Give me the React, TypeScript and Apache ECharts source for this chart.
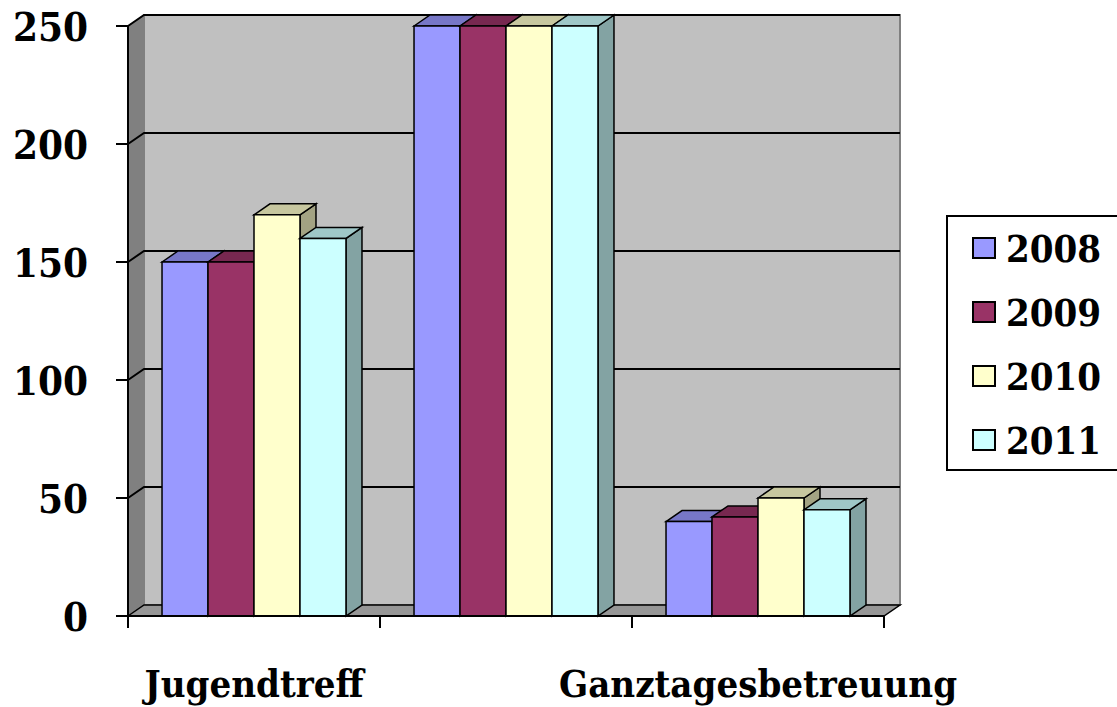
import React, { useEffect, useRef } from "react";
import * as echarts from "echarts";

const categories = ["Jugendtreff", "", "Ganztagesbetreuung"];
const years = ["2008", "2009", "2010", "2011"];
const values2008 = [150, 250, 40];
const values2009 = [150, 250, 42];
const values2010 = [170, 250, 50];
const values2011 = [160, 250, 45];
const yTicks = [0, 50, 100, 150, 200, 250];
const colors = ["#9999FF", "#993366", "#FFFFCC", "#CCFFFF"];

const seriesValues = [values2008, values2009, values2010, values2011];

const DX = 16;
const DY = -11;
const GAP = 0.27;
const FONT = "'DejaVu Serif Condensed', 'DejaVu Serif', serif";

function shade(hex: string, f: number): string {
  const n = parseInt(hex.slice(1), 16);
  const r = Math.round(((n >> 16) & 255) * f);
  const g = Math.round(((n >> 8) & 255) * f);
  const b = Math.round((n & 255) * f);
  return "rgb(" + r + "," + g + "," + b + ")";
}

export default function App() {
  const ref = useRef<HTMLDivElement>(null);
  useEffect(() => {
    if (!ref.current) return;
    const chart = echarts.init(ref.current, null, { renderer: "svg" });

    const wallSeries: any = {
      type: "custom",
      name: "wall",
      silent: true,
      z: 1,
      data: [[0, 0]],
      encode: { x: 0, y: 1 },
      renderItem: (params: any, api: any) => {
        const cs = params.coordSys;
        const x = cs.x, y = cs.y, w = cs.width, h = cs.height;
        const children: any[] = [
          {
            type: "polygon",
            shape: { points: [[x, y], [x + DX, y + DY], [x + DX, y + h + DY], [x, y + h]] },
            style: { fill: "#808080", stroke: "#606060", lineWidth: 1 },
          },
          {
            type: "rect",
            shape: { x: x + DX, y: y + DY, width: w, height: h },
            style: { fill: "#C0C0C0", stroke: "#808080", lineWidth: 2 },
          },
          {
            type: "polygon",
            shape: { points: [[x, y + h], [x + DX, y + h + DY], [x + w + DX, y + h + DY], [x + w, y + h]] },
            style: { fill: "#969696", stroke: "#000", lineWidth: 1.5 },
          },
        ];
        yTicks.forEach((t) => {
          if (t === 0) return;
          const yy = api.coord([0, t])[1];
          children.push({
            type: "polyline",
            shape: { points: [[x, yy], [x + DX, yy + DY], [x + w + DX, yy + DY]] },
            style: { stroke: "#000", lineWidth: 2, fill: null },
          });
        });
        return { type: "group", children };
      },
    };

    const barSeries = years.map((yr, k) => ({
      type: "custom",
      name: yr,
      z: 2,
      itemStyle: { color: colors[k], borderColor: "#000", borderWidth: 2 },
      data: seriesValues[k].map((v, i) => [i, v]),
      encode: { x: 0, y: 1 },
      renderItem: (params: any, api: any) => {
        const ci = api.value(0);
        const val = api.value(1);
        const top = api.coord([ci, val]);
        const base = api.coord([ci, 0]);
        const band = api.size([1, 0])[0];
        const total = band * (1 - GAP);
        const bw = total / years.length;
        const x0 = top[0] - total / 2 + k * bw;
        const yT = top[1];
        const yB = base[1];
        const c = colors[k];
        return {
          type: "group",
          children: [
            {
              type: "polygon",
              shape: { points: [[x0 + bw, yT], [x0 + bw + DX, yT + DY], [x0 + bw + DX, yB + DY], [x0 + bw, yB]] },
              style: { fill: shade(c, 0.64), stroke: "#000", lineWidth: 1.5 },
            },
            {
              type: "polygon",
              shape: { points: [[x0, yT], [x0 + DX, yT + DY], [x0 + bw + DX, yT + DY], [x0 + bw, yT]] },
              style: { fill: shade(c, 0.78), stroke: "#000", lineWidth: 1.5 },
            },
            {
              type: "rect",
              shape: { x: x0, y: yT, width: bw, height: yB - yT },
              style: { fill: c, stroke: "#000", lineWidth: 1.5 },
            },
          ],
        };
      },
    }));

    chart.setOption({
      animation: false,
      backgroundColor: "#ffffff",
      grid: { left: 128, right: 233, top: 26, bottom: 91, containLabel: false },
      legend: {
        data: years,
        orient: "vertical",
        left: 947,
        top: 216,
        backgroundColor: "#fff",
        borderColor: "#000",
        borderWidth: 2,
        padding: [12, 20, 10, 25],
        itemWidth: 22,
        itemHeight: 20,
        itemGap: 24,
        icon: "rect",
        itemStyle: { borderColor: "#000", borderWidth: 2 },
        textStyle: {
          fontFamily: FONT,
          fontWeight: "bold",
          fontSize: 38,
          color: "#000",
          lineHeight: 40,
          padding: [0, 0, 0, 6],
        },
      },
      xAxis: {
        type: "category",
        data: categories,
        z: 10,
        axisLine: { show: true, lineStyle: { color: "#000", width: 2 } },
        axisTick: { show: true, length: 12, lineStyle: { color: "#000", width: 2 } },
        axisLabel: {
          interval: 0,
          margin: 48,
          fontFamily: FONT,
          fontWeight: "bold",
          fontSize: 38,
          color: "#000",
        },
        splitLine: { show: false },
      },
      yAxis: {
        type: "value",
        min: 0,
        max: 250,
        interval: 50,
        z: 10,
        axisLine: { show: true, lineStyle: { color: "#000", width: 2 } },
        axisTick: { show: true, length: 12, lineStyle: { color: "#000", width: 2 } },
        axisLabel: {
          margin: 40,
          fontFamily: FONT,
          fontWeight: "bold",
          fontSize: 40,
          color: "#000",
        },
        splitLine: { show: false },
      },
      series: [wallSeries, ...barSeries],
    });
    return () => chart.dispose();
  }, []);
  return (
    <div
      ref={ref}
      style={{ position: "fixed", left: 0, top: 0, width: 1117, height: 707 }}
    />
  );
}
